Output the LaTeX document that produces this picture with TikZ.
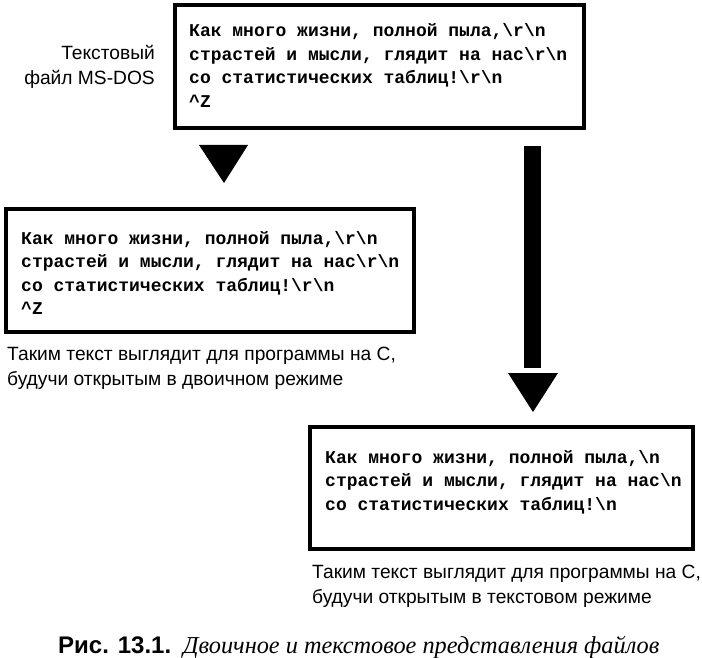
\documentclass[tikz,border=0pt]{standalone}
\usepackage{fontspec}
\setmainfont{Liberation Sans}
\newfontfamily\monof{Liberation Mono}
\newfontfamily\capserif{Liberation Serif}
\newcommand\bsl{\textbackslash}
\begin{document}
\begin{tikzpicture}[x=1pt,y=-1pt,
  box/.style={draw, line width=4pt, rectangle, inner sep=0pt},
  mono/.style={font=\monof\bfseries\fontsize{18}{23.5}\selectfont, align=left, anchor=base west, inner sep=0pt},
  lbl/.style={font=\fontsize{19.2}{25}\selectfont, inner sep=0pt, anchor=base west, align=left},
  tri/.style={fill=black}]
\useasboundingbox (0,0) rectangle (702,658);
% boxes
\node[box, minimum width=409pt, minimum height=123pt] (topbox) at (379.5,66.5) {};
\node[box, minimum width=408pt, minimum height=123pt] (leftbox) at (210,270.5) {};
\node[box, minimum width=383pt, minimum height=122pt] (rightbox) at (501.5,488) {};
% box texts (anchor = baseline of last line)
\node[mono] (toptext) at (189,107.5) {Как много жизни, полной пыла,\bsl r\bsl n\\страстей и мысли, глядит на нас\bsl r\bsl n\\со статистических таблиц!\bsl r\bsl n\\\textasciicircum Z};
\node[mono] (lefttext) at (21,314.5) {Как много жизни, полной пыла,\bsl r\bsl n\\страстей и мысли, глядит на нас\bsl r\bsl n\\со статистических таблиц!\bsl r\bsl n\\\textasciicircum Z};
\node[mono] (righttext) at (325,510) {Как много жизни, полной пыла,\bsl n\\страстей и мысли, глядит на нас\bsl n\\со статистических таблиц!\bsl n};
% labels
\node[lbl, anchor=base east, align=right] (dos) at (155,85) {Текстовый\\файл MS-DOS};
\node[lbl] (bincap) at (7,385) {Таким текст выглядит для программы на С,\\будучи открытым в двоичном режиме};
\node[lbl] (txtcap) at (312,603) {Таким текст выглядит для программы на С,\\будучи открытым в текстовом режиме};
% arrows
\fill[tri] (199,145) -- (248,145) -- (224,183) -- cycle;
\fill[tri] (524,146) rectangle (541,368);
\fill[tri] (508,373) -- (558,373) -- (533,412) -- cycle;
% figure caption
\node[inner sep=0pt, anchor=base west, font=\bfseries\fontsize{24}{28}\selectfont] (fignum) at (58,653) {Рис. 13.1.};
\node[inner sep=0pt, anchor=base west, font=\capserif\itshape\fontsize{24.3}{28}\selectfont] (figtitle) at (183,653) {Двоичное и текстовое представления файлов};
\end{tikzpicture}
\end{document}
